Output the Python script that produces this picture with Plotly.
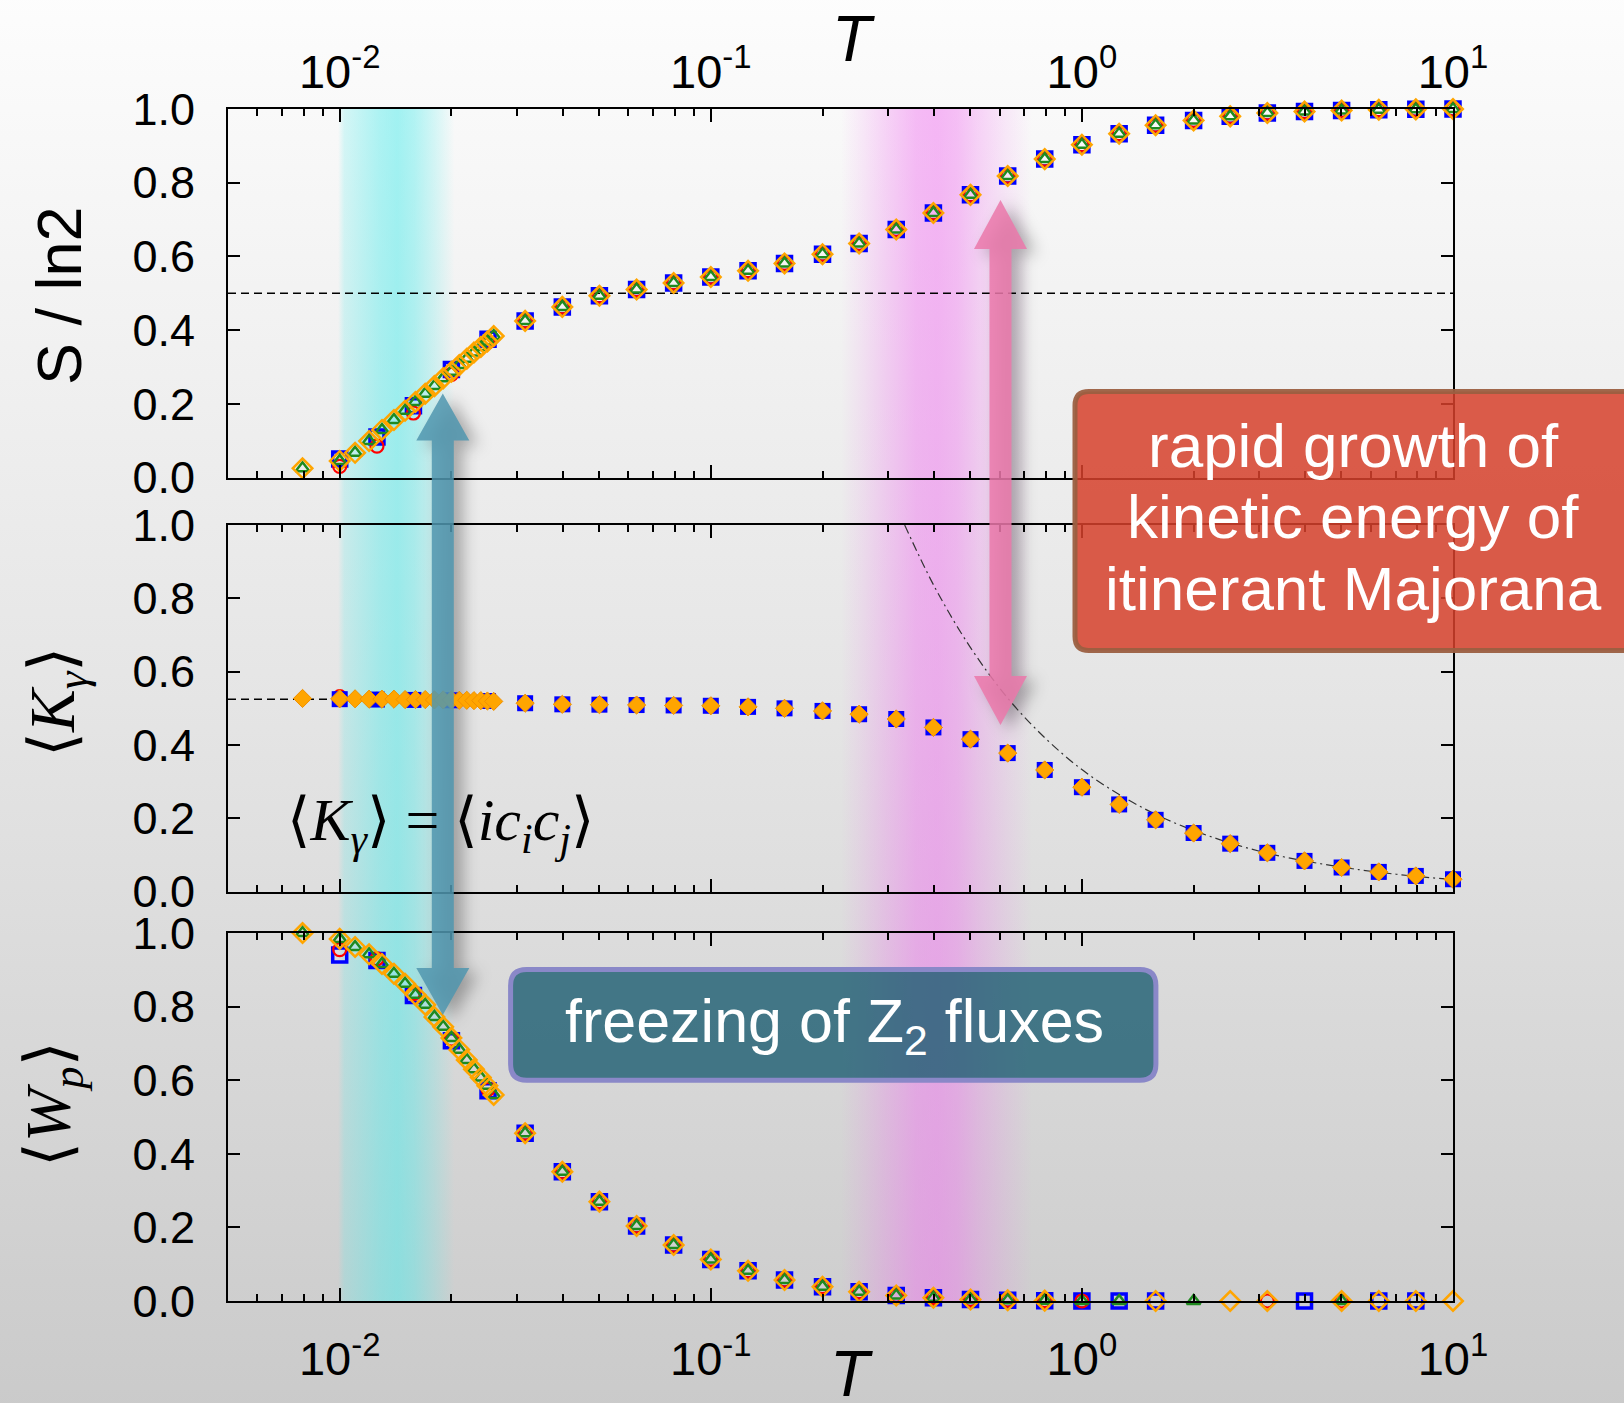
import base64
import numpy as np
import plotly.graph_objects as go

# ---------------- data ----------------
# regular grid, 10 points per decade
T_grid = [0.0316, 0.0398, 0.0501, 0.0631, 0.0794, 0.1, 0.126, 0.158, 0.2, 0.251,
          0.316, 0.398, 0.501, 0.631, 0.794, 1.0, 1.26, 1.58, 2.0, 2.51,
          3.16, 3.98, 5.01, 6.31, 7.94, 10.0]
S_grid = [0.425, 0.463, 0.493, 0.510, 0.528, 0.544, 0.561, 0.581, 0.606, 0.635,
          0.673, 0.718, 0.767, 0.818, 0.864, 0.903, 0.933, 0.956, 0.969, 0.980,
          0.989, 0.993, 0.996, 0.998, 0.999, 1.000]
K_grid = [0.514, 0.511, 0.510, 0.509, 0.508, 0.507, 0.504, 0.500, 0.493, 0.484,
          0.471, 0.448, 0.416, 0.378, 0.332, 0.285, 0.238, 0.196, 0.160, 0.131,
          0.106, 0.084, 0.066, 0.054, 0.043, 0.034]
# W_p for T = 0.0316 ... 0.794
W_grid_lo = [0.456, 0.351, 0.270, 0.204, 0.152, 0.113, 0.082, 0.057, 0.039, 0.025,
             0.015, 0.009, 0.004, 0.002, 0.001]
# W_p for T = 1 ... 10 (None = symbol not visible)
W_blue_hi = [0.0, 0.0, 0.0, None, None, None, 0.0, None, 0.0, 0.0, None]
W_red_hi = [0.0, None, None, None, None, 0.0, None, 0.0, None, None, None]
W_green_hi = [0.0, 0.0, None, 0.0, None, None, None, 0.0, None, None, None]
W_orange_hi = [None, None, 0.0, None, 0.0, 0.0, None, 0.0, 0.0, 0.0, 0.0]

# low-T coarse points (blue squares / red circles)
T_low = [0.01, 0.0126, 0.0158, 0.02, 0.0251]
S_blue_low = [0.050, 0.110, 0.195, 0.293, 0.375]
S_red_low = [0.030, 0.085, 0.175, 0.280, 0.368]
K_blue_low = [0.525, 0.524, 0.523, 0.522, 0.520]
K_red_low = [0.532, 0.525, 0.524, 0.522, 0.520]
W_blue_low = [0.940, 0.925, 0.830, 0.707, 0.571]
W_red_low = [0.955, 0.930, 0.835, 0.712, 0.575]

# low-T dense points (green triangles / orange diamonds)
T_dense = [0.00794, 0.01, 0.011, 0.012, 0.013, 0.014, 0.015, 0.016, 0.017, 0.018,
           0.019, 0.020, 0.021, 0.022, 0.023, 0.024, 0.025, 0.026]
S_dense = [0.025, 0.045, 0.067, 0.099, 0.129, 0.156, 0.181, 0.205, 0.227, 0.248,
           0.269, 0.287, 0.305, 0.322, 0.339, 0.354, 0.369, 0.384]
K_dense = [0.527, 0.526, 0.526, 0.525, 0.525, 0.525, 0.524, 0.524, 0.524, 0.523,
           0.523, 0.523, 0.522, 0.522, 0.521, 0.521, 0.520, 0.519]
W_dense = [1.000, 0.984, 0.962, 0.942, 0.916, 0.889, 0.862, 0.832, 0.805, 0.772,
           0.745, 0.715, 0.683, 0.655, 0.630, 0.607, 0.585, 0.560]

# high-T asymptote of <K> (dash-dot curve)
T_curve = [0.333, 0.4, 0.5, 0.631, 0.794, 1.0, 1.26, 1.58, 2.0, 2.51, 3.16, 3.98,
           5.01, 6.31, 7.94, 10.0]
K_curve = [1.0, 0.833, 0.667, 0.528, 0.420, 0.333, 0.265, 0.211, 0.167, 0.133,
           0.105, 0.084, 0.067, 0.053, 0.042, 0.033]

# reference lines
T_ref_S = [0.005, 10.0]
S_ref = [0.5, 0.5]
T_ref_K = [0.005, 0.0105]
K_ref = [0.525, 0.525]

Y_TICKS = [0.0, 0.2, 0.4, 0.6, 0.8, 1.0]
X_TICKS = [0.01, 0.1, 1.0, 10.0]
X_TICKTEXT = ["10<sup>-2</sup>", "10<sup>-1</sup>", "10<sup>0</sup>", "10<sup>1</sup>"]

# ---------------- geometry ----------------
W, H = 1624, 1403
L, R, TOP, BOT = 228, 171, 109, 102
PW, PH = W - L - R, H - TOP - BOT
XMIN, XMAX = np.log10(0.005), 1.0


def px2x(p):
    return (p - L) / PW


def px2y(p):
    return (H - BOT - p) / PH


def t2px(t):
    return L + (np.log10(t) - XMIN) / (XMAX - XMIN) * PW


SANS = "Liberation Sans, Arial, Helvetica, sans-serif"
SERIF = "Liberation Serif, DejaVu Serif, DejaVu Sans, serif"

# ---------------- background image (gradient, bands, shadows) ----------------
CYAN_STOPS = [(0.0099, 0.0), (0.0103, 0.22), (0.0111, 0.30), (0.0128, 0.45),
              (0.0143, 0.52), (0.0159, 0.42), (0.0180, 0.22), (0.0204, 0.0)]
MAG_STOPS = [(0.2245, 0.0), (0.2558, 0.12), (0.2987, 0.28), (0.3576, 0.45),
             (0.4074, 0.48), (0.4612, 0.42), (0.5254, 0.28), (0.6289, 0.12),
             (0.7345, 0.0)]


def band_svg(gid, stops, color):
    x0, x1 = t2px(stops[0][0]), t2px(stops[-1][0])
    st = "".join(
        f'<stop offset="{(t2px(t) - x0) / (x1 - x0):.4f}" stop-color="{color}" stop-opacity="{a}"/>'
        for t, a in stops)
    grad = f'<linearGradient id="{gid}" x1="0" y1="0" x2="1" y2="0">{st}</linearGradient>'
    rect = f'<rect x="{x0:.2f}" y="{TOP + 10}" width="{x1 - x0:.2f}" height="{PH}" fill="url(#{gid})"/>'
    return grad, rect


def arrow_pts(cx, ytop, ybot, shw, hhw, hl):
    return [(cx, ytop), (cx + hhw, ytop + hl), (cx + shw, ytop + hl), (cx + shw, ybot - hl),
            (cx + hhw, ybot - hl), (cx, ybot), (cx - hhw, ybot - hl), (cx - shw, ybot - hl),
            (cx - shw, ytop + hl), (cx - hhw, ytop + hl)]


BLUE_ARROW = arrow_pts(442.8, 393.6, 1015, 11, 26.5, 47)
PINK_ARROW = arrow_pts(1000.5, 200, 725, 11, 26.5, 49)

g1, r1 = band_svg("cy", CYAN_STOPS, "rgb(80,235,235)")
g2, r2 = band_svg("mg", MAG_STOPS, "rgb(240,110,240)")


def svg_poly(pts, dx=0, dy=0):
    return "M " + " L ".join(f"{x + dx:.1f},{y + dy:.1f}" for x, y in pts) + " Z"


# the svg canvas is 10 px larger on every side than the page
SW, SH = W + 20, H + 20
svg = (
    f'<svg xmlns="http://www.w3.org/2000/svg" width="{SW}" height="{SH}" viewBox="-10 -10 {SW} {SH}" '
    f'preserveAspectRatio="none"><defs>'
    f'<linearGradient id="bg" x1="0" y1="0" x2="0" y2="1">'
    f'<stop offset="0" stop-color="#fdfdfd"/><stop offset="0.5" stop-color="#e5e5e5"/>'
    f'<stop offset="1" stop-color="#cacaca"/></linearGradient>'
    f'{g1}{g2}'
    f'<filter id="bl" x="-100%" y="-20%" width="300%" height="140%">'
    f'<feGaussianBlur stdDeviation="8"/></filter></defs>'
    f'<rect x="-10" y="-10" width="{SW}" height="{SH}" fill="url(#bg)"/>'
    f'{r1}{r2}'
    f'<path d="{svg_poly(BLUE_ARROW, 9, 5)}" fill="#000" fill-opacity="0.3" filter="url(#bl)"/>'
    f'<path d="{svg_poly(PINK_ARROW, 9, 5)}" fill="#000" fill-opacity="0.3" filter="url(#bl)"/>'
    f'</svg>'
)
# note: band rects were shifted by +10 in y above to compensate for nothing; fix below
svg = svg.replace(f'y="{TOP + 10}"', f'y="{TOP}"')
bg_src = "data:image/svg+xml;base64," + base64.b64encode(svg.encode()).decode()

# ---------------- figure ----------------
fig = go.Figure()

STY = {
    "blue": dict(symbol="square-open", size=14, color="blue", line=dict(width=3.5, color="blue")),
    "red": dict(symbol="circle-open", size=13, color="red", line=dict(width=2.2, color="red")),
    "green": dict(symbol="triangle-up-open", size=12, color="#1f8a1f", line=dict(width=2.5, color="#1f8a1f")),
    "orange": dict(symbol="diamond-open", size=15, color="orange", line=dict(width=2.5, color="orange")),
}
STY_MID = {
    "blue": dict(symbol="square", size=16, color="blue", line=dict(width=0)),
    "red": dict(symbol="circle-open", size=13, color="red", line=dict(width=2, color="red")),
    "green": dict(symbol="triangle-up", size=11, color="#1f8a1f", line=dict(width=0)),
    "orange": dict(symbol="diamond", size=14, color="orange", line=dict(width=1, color="#f09000")),
}


def pts(xs, ys, sty, xa, ya):
    fig.add_trace(go.Scatter(x=xs, y=ys, mode="markers", marker=sty, xaxis=xa, yaxis=ya,
                             cliponaxis=False, showlegend=False, hoverinfo="skip"))


# reference lines
fig.add_trace(go.Scatter(x=T_ref_S, y=S_ref, mode="lines", line=dict(color="black", width=1.5, dash="8px,5px"),
                         xaxis="x", yaxis="y", showlegend=False, hoverinfo="skip"))
fig.add_trace(go.Scatter(x=T_ref_K, y=K_ref, mode="lines", line=dict(color="black", width=1.5, dash="8px,5px"),
                         xaxis="x2", yaxis="y2", showlegend=False, hoverinfo="skip"))
fig.add_trace(go.Scatter(x=T_curve, y=K_curve, mode="lines", line=dict(color="#333", width=1.2, dash="9px,4px,2px,4px",
                         shape="spline"), xaxis="x2", yaxis="y2", showlegend=False, hoverinfo="skip"))

# top panel: entropy
pts(T_low + T_grid, S_blue_low + S_grid, STY["blue"], "x", "y")
pts(T_low + T_grid, S_red_low + S_grid, STY["red"], "x", "y")
pts(T_dense + T_grid, S_dense + S_grid, STY["green"], "x", "y")
pts(T_dense + T_grid, S_dense + S_grid, STY["orange"], "x", "y")

# middle panel: <K_gamma>
pts(T_low + T_grid, K_red_low + K_grid, STY_MID["red"], "x2", "y2")
pts(T_dense + T_grid, K_dense + K_grid, STY_MID["green"], "x2", "y2")
pts(T_low + T_grid, K_blue_low + K_grid, STY_MID["blue"], "x2", "y2")
pts(T_dense + T_grid, K_dense + K_grid, STY_MID["orange"], "x2", "y2")

# bottom panel: <W_p>
pts(T_low + T_grid, W_blue_low + W_grid_lo + W_blue_hi, STY["blue"], "x3", "y3")
pts(T_low + T_grid, W_red_low + W_grid_lo + W_red_hi, STY["red"], "x3", "y3")
pts(T_dense + T_grid, W_dense + W_grid_lo + W_green_hi, STY["green"], "x3", "y3")
pts(T_dense + T_grid, W_dense + W_grid_lo + W_orange_hi, STY["orange"], "x3", "y3")

# ---------------- axes ----------------
minor_vals = [k * 10.0 ** d for d in range(-3, 1) for k in range(2, 10) if 0.005 <= k * 10.0 ** d <= 10]


def xax(side, show, anchor, standoff):
    return dict(type="log", range=[XMIN, XMAX], domain=[0, 1], anchor=anchor, side=side,
                tickmode="array", tickvals=X_TICKS, ticktext=X_TICKTEXT, showticklabels=show,
                ticks="inside", ticklen=13, tickwidth=2, tickcolor="black",
                minor=dict(tickmode="array", tickvals=minor_vals, ticks="inside", ticklen=7,
                           tickwidth=1.5, tickcolor="black"),
                showline=True, linecolor="black", linewidth=2, mirror="allticks",
                showgrid=False, zeroline=False, ticklabelstandoff=standoff,
                tickfont=dict(family=SANS, size=47, color="black"))


def yax(domain, anchor):
    return dict(range=[0, 1], domain=domain, anchor=anchor, tickmode="array", tickvals=Y_TICKS,
                tickformat=".1f", ticks="inside", ticklen=12, tickwidth=2, tickcolor="black",
                showline=True, linecolor="black", linewidth=2, mirror="allticks",
                showgrid=False, zeroline=False, ticklabelstandoff=22,
                tickfont=dict(family=SANS, size=45, color="black"))


D_TOP = [px2y(477.5), 1.0]
D_MID = [px2y(891.7), px2y(525)]
D_BOT = [0.0, px2y(933)]

# ---------------- shapes (arrows, boxes) ----------------


def paper_path(points):
    return "M " + " L ".join(f"{px2x(x):.5f},{px2y(y):.5f}" for x, y in points) + " Z"


def rrect(x0, y0, x1, y1, r):
    P = lambda x, y: f"{px2x(x):.5f},{px2y(y):.5f}"
    return (f"M {P(x0 + r, y0)} L {P(x1 - r, y0)} Q {P(x1, y0)} {P(x1, y0 + r)} "
            f"L {P(x1, y1 - r)} Q {P(x1, y1)} {P(x1 - r, y1)} L {P(x0 + r, y1)} "
            f"Q {P(x0, y1)} {P(x0, y1 - r)} L {P(x0, y0 + r)} Q {P(x0, y0)} {P(x0 + r, y0)} Z")


shapes = [
    dict(type="path", xref="paper", yref="paper", path=paper_path(BLUE_ARROW),
         fillcolor="rgba(80,150,175,0.85)", line=dict(width=0), layer="above"),
    dict(type="path", xref="paper", yref="paper", path=paper_path(PINK_ARROW),
         fillcolor="rgba(235,120,170,0.85)", line=dict(width=0), layer="above"),
    dict(type="path", xref="paper", yref="paper", path=rrect(1075, 391.5, 1640, 650.4, 14),
         fillcolor="rgba(214,65,43,0.85)", line=dict(width=5, color="rgba(155,95,65,0.95)"), layer="above"),
    dict(type="path", xref="paper", yref="paper", path=rrect(510.6, 969.4, 1155.9, 1080.2, 16),
         fillcolor="rgba(28,92,112,0.8)", line=dict(width=5, color="#8a88c8"), layer="above"),
]

# ---------------- annotations ----------------
ann = []


def A(text, xpx, ypx, size, family=SANS, color="black", angle=0):
    ann.append(dict(text=text, x=px2x(xpx), y=px2y(ypx), xref="paper", yref="paper",
                    showarrow=False, textangle=angle, xanchor="center", yanchor="middle",
                    font=dict(size=size, family=family, color=color)))


A("<i>T</i>", 853, 39, 64)
A("<i>T</i>", 851, 1374, 64)
A("S / ln2", 59, 296, 63, angle=-90)
A("⟨<i>K</i><sub><i>γ</i></sub>⟩", 57, 702, 64, family=SERIF, angle=-90)
A("⟨<i>W</i><sub><i>p</i></sub>⟩", 53, 1104, 64, family=SERIF, angle=-90)
A("⟨<i>K</i><sub><i>γ</i></sub>⟩ = ⟨<i>ic</i><sub><i>i</i></sub><i>c</i><sub><i>j</i></sub>⟩",
  440, 824, 60, family=SERIF)
A("rapid growth of", 1353, 445, 62, color="white")
A("kinetic energy of", 1353, 516, 62, color="white")
A("itinerant Majorana", 1353, 588, 62, color="white")
A("freezing of Z<sub>2</sub> fluxes", 834, 1025, 61, color="white")

fig.update_layout(
    width=W, height=H, autosize=False,
    margin=dict(l=L, r=R, t=TOP, b=BOT, pad=0),
    paper_bgcolor="#e3e3e3", plot_bgcolor="rgba(0,0,0,0)",
    xaxis=xax("top", True, "y", 0),
    xaxis2=xax("bottom", False, "y2", 10),
    xaxis3=xax("bottom", True, "y3", 16),
    yaxis=yax(D_TOP, "x"),
    yaxis2=yax(D_MID, "x2"),
    yaxis3=yax(D_BOT, "x3"),
    shapes=shapes,
    annotations=ann,
    images=[dict(source=bg_src, xref="paper", yref="paper", x=px2x(-10), y=px2y(-10),
                 sizex=SW / PW, sizey=SH / PH, xanchor="left", yanchor="top",
                 sizing="stretch", layer="below")],
    showlegend=False,
)

fig.write_html("out.html")
